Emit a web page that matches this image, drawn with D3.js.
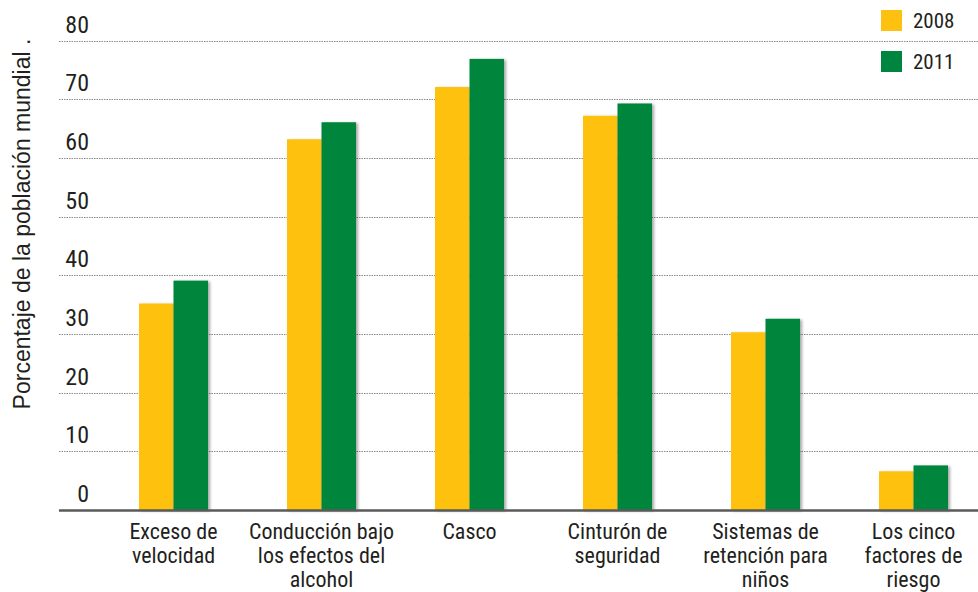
<!DOCTYPE html>
<html>
<head>
<meta charset="utf-8">
<script src="https://cdn.jsdelivr.net/npm/d3@7"></script>
<style>
  html, body { margin: 0; padding: 0; background: #fff; }
  svg { display: block; }
  .narrow { font-family: "Liberation Sans Narrow", "Roboto Condensed", "DejaVu Sans Condensed", sans-serif; font-stretch: condensed; }
</style>
</head>
<body>
<svg id="chart" width="978" height="592"></svg>
<script>
const categories = [
  ["Exceso de", "velocidad"],
  ["Conducción bajo", "los efectos del", "alcohol"],
  ["Casco"],
  ["Cinturón de", "seguridad"],
  ["Sistemas de", "retención para", "niños"],
  ["Los cinco", "factores de", "riesgo"]
];
const seriesNames = ["2008", "2011"];
const values2008 = [35.2, 63.2, 72.1, 67.2, 30.3, 6.6];
const values2011 = [39.1, 66.1, 76.9, 69.3, 32.6, 7.6];
const yTicks = [0, 10, 20, 30, 40, 50, 60, 70, 80];
const yLabel = "Porcentaje de la población mundial .";
const colors = ["#FEC10F", "#00853E"];

const svg = d3.select("#chart");
const defs = svg.append("defs");
const f = defs.append("filter").attr("id", "shadow").attr("x", "-20%").attr("y", "-10%").attr("width", "150%").attr("height", "130%");
f.append("feDropShadow").attr("dx", 2).attr("dy", 1).attr("stdDeviation", 1.8).attr("flood-color", "#000").attr("flood-opacity", 0.35);

const catKeys = categories.map(c => c.join(" "));
const x0 = d3.scaleBand().domain(catKeys).range([99.5, 987.5]).padding(0);
const x1 = d3.scaleBand().domain(seriesNames).range([0, 69]).padding(0);
const y = d3.scaleLinear().domain([0, 80]).range([510, 40.7]);

// gridlines
svg.append("g").selectAll("line").data(yTicks.filter(t => t > 0)).join("line")
  .attr("x1", 59).attr("x2", 978)
  .attr("y1", d => Math.round(y(d)) + 0.5).attr("y2", d => Math.round(y(d)) + 0.5)
  .attr("stroke", "#8a8a8a").attr("stroke-width", 1).attr("stroke-dasharray", "1.5,1");

// tick labels
svg.append("g").selectAll("text").data(yTicks).join("text")
  .attr("class", "narrow")
  .attr("x", 89).attr("y", d => y(d) - 8)
  .attr("text-anchor", "end")
  .attr("font-size", 24).attr("fill", "#231f20")
  .text(d => d);

// bars
const data = catKeys.map((k, i) => ({ key: k, vals: [values2008[i], values2011[i]] }));
const groups = svg.append("g").selectAll("g").data(data).join("g")
  .attr("transform", d => `translate(${x0(d.key) + x0.bandwidth() / 2 - 34.5},0)`);
groups.selectAll("rect").data(d => d.vals.map((v, j) => ({ s: seriesNames[j], v, j }))).join("rect")
  .attr("x", d => x1(d.s)).attr("width", x1.bandwidth())
  .attr("y", d => y(d.v)).attr("height", d => y(0) - y(d.v))
  .attr("fill", d => colors[d.j])
  .attr("filter", "url(#shadow)");

// baseline
svg.append("line").attr("x1", 59).attr("x2", 978).attr("y1", y(0) + 0.5).attr("y2", y(0) + 0.5)
  .attr("stroke", "#5a5a5a").attr("stroke-width", 2.5);

// x labels
const xl = svg.append("g").selectAll("text").data(categories).join("text")
  .attr("class", "narrow")
  .attr("text-anchor", "middle")
  .attr("font-size", 22).attr("fill", "#231f20")
  .attr("transform", (d, i) => `translate(${x0(catKeys[i]) + x0.bandwidth() / 2},539)`);
xl.selectAll("tspan").data(d => d).join("tspan")
  .attr("x", 0).attr("y", (d, i) => i * 24)
  .text(d => d);

// y label
svg.append("text")
  .attr("transform", "translate(30,224) rotate(-90)")
  .attr("text-anchor", "middle")
  .attr("font-family", "Liberation Sans, Arial, sans-serif")
  .attr("font-size", 23).attr("fill", "#231f20")
  .text(yLabel);

// legend
const lg = svg.append("g").selectAll("g").data(seriesNames).join("g")
  .attr("transform", (d, i) => `translate(881,${10 + i * 41})`);
lg.append("rect").attr("width", 21).attr("height", 21).attr("fill", (d, i) => colors[i]);
lg.append("text").attr("class", "narrow").attr("x", 32).attr("y", 18)
  .attr("font-size", 21).attr("fill", "#231f20").text(d => d);
</script>
</body>
</html>
